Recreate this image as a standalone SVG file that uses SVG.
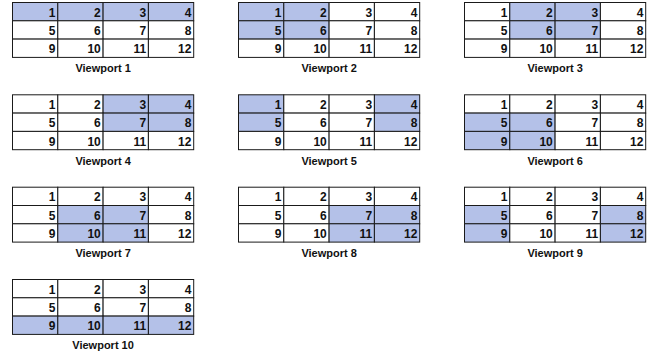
<svg xmlns="http://www.w3.org/2000/svg" width="662" height="356" viewBox="0 0 662 356">
<style>
.bg{fill:#ffffff}
.c{fill:#ffffff;stroke:#1a1a1a;stroke-width:1}
.h{fill:#b4c1e8;stroke:#1a1a1a;stroke-width:1}
.n{font-family:"Liberation Sans",Arial,sans-serif;font-size:12px;font-weight:bold;fill:#111;text-anchor:end}
.l{font-family:"Liberation Sans",Arial,sans-serif;font-size:11px;font-weight:bold;fill:#111;text-anchor:middle}
</style>
<rect class="bg" x="0" y="0" width="662" height="356"/>
<g id="vp1" transform="translate(12.5,2.5)">
<rect class="h" x="0" y="0" width="45.3" height="18.3"/><rect class="h" x="45.3" y="0" width="45.3" height="18.3"/><rect class="h" x="90.6" y="0" width="45.3" height="18.3"/><rect class="h" x="135.9" y="0" width="45.3" height="18.3"/>
<rect class="c" x="0" y="18.3" width="45.3" height="18.3"/><rect class="c" x="45.3" y="18.3" width="45.3" height="18.3"/><rect class="c" x="90.6" y="18.3" width="45.3" height="18.3"/><rect class="c" x="135.9" y="18.3" width="45.3" height="18.3"/>
<rect class="c" x="0" y="36.6" width="45.3" height="18.3"/><rect class="c" x="45.3" y="36.6" width="45.3" height="18.3"/><rect class="c" x="90.6" y="36.6" width="45.3" height="18.3"/><rect class="c" x="135.9" y="36.6" width="45.3" height="18.3"/>
<text class="n" x="43" y="14.2">1</text><text class="n" x="88.3" y="14.2">2</text><text class="n" x="133.6" y="14.2">3</text><text class="n" x="178.9" y="14.2">4</text>
<text class="n" x="43" y="32.5">5</text><text class="n" x="88.3" y="32.5">6</text><text class="n" x="133.6" y="32.5">7</text><text class="n" x="178.9" y="32.5">8</text>
<text class="n" x="43" y="50.8">9</text><text class="n" x="88.3" y="50.8">10</text><text class="n" x="133.6" y="50.8">11</text><text class="n" x="178.9" y="50.8">12</text>
<text class="l" x="90.6" y="69.8">Viewport 1</text>
</g>
<g id="vp2" transform="translate(238.5,2.5)">
<rect class="h" x="0" y="0" width="45.3" height="18.3"/><rect class="h" x="45.3" y="0" width="45.3" height="18.3"/><rect class="c" x="90.6" y="0" width="45.3" height="18.3"/><rect class="c" x="135.9" y="0" width="45.3" height="18.3"/>
<rect class="h" x="0" y="18.3" width="45.3" height="18.3"/><rect class="h" x="45.3" y="18.3" width="45.3" height="18.3"/><rect class="c" x="90.6" y="18.3" width="45.3" height="18.3"/><rect class="c" x="135.9" y="18.3" width="45.3" height="18.3"/>
<rect class="c" x="0" y="36.6" width="45.3" height="18.3"/><rect class="c" x="45.3" y="36.6" width="45.3" height="18.3"/><rect class="c" x="90.6" y="36.6" width="45.3" height="18.3"/><rect class="c" x="135.9" y="36.6" width="45.3" height="18.3"/>
<text class="n" x="43" y="14.2">1</text><text class="n" x="88.3" y="14.2">2</text><text class="n" x="133.6" y="14.2">3</text><text class="n" x="178.9" y="14.2">4</text>
<text class="n" x="43" y="32.5">5</text><text class="n" x="88.3" y="32.5">6</text><text class="n" x="133.6" y="32.5">7</text><text class="n" x="178.9" y="32.5">8</text>
<text class="n" x="43" y="50.8">9</text><text class="n" x="88.3" y="50.8">10</text><text class="n" x="133.6" y="50.8">11</text><text class="n" x="178.9" y="50.8">12</text>
<text class="l" x="90.6" y="69.8">Viewport 2</text>
</g>
<g id="vp3" transform="translate(464.5,2.5)">
<rect class="c" x="0" y="0" width="45.3" height="18.3"/><rect class="h" x="45.3" y="0" width="45.3" height="18.3"/><rect class="h" x="90.6" y="0" width="45.3" height="18.3"/><rect class="c" x="135.9" y="0" width="45.3" height="18.3"/>
<rect class="c" x="0" y="18.3" width="45.3" height="18.3"/><rect class="h" x="45.3" y="18.3" width="45.3" height="18.3"/><rect class="h" x="90.6" y="18.3" width="45.3" height="18.3"/><rect class="c" x="135.9" y="18.3" width="45.3" height="18.3"/>
<rect class="c" x="0" y="36.6" width="45.3" height="18.3"/><rect class="c" x="45.3" y="36.6" width="45.3" height="18.3"/><rect class="c" x="90.6" y="36.6" width="45.3" height="18.3"/><rect class="c" x="135.9" y="36.6" width="45.3" height="18.3"/>
<text class="n" x="43" y="14.2">1</text><text class="n" x="88.3" y="14.2">2</text><text class="n" x="133.6" y="14.2">3</text><text class="n" x="178.9" y="14.2">4</text>
<text class="n" x="43" y="32.5">5</text><text class="n" x="88.3" y="32.5">6</text><text class="n" x="133.6" y="32.5">7</text><text class="n" x="178.9" y="32.5">8</text>
<text class="n" x="43" y="50.8">9</text><text class="n" x="88.3" y="50.8">10</text><text class="n" x="133.6" y="50.8">11</text><text class="n" x="178.9" y="50.8">12</text>
<text class="l" x="90.6" y="69.8">Viewport 3</text>
</g>
<g id="vp4" transform="translate(12.5,94.8)">
<rect class="c" x="0" y="0" width="45.3" height="18.3"/><rect class="c" x="45.3" y="0" width="45.3" height="18.3"/><rect class="h" x="90.6" y="0" width="45.3" height="18.3"/><rect class="h" x="135.9" y="0" width="45.3" height="18.3"/>
<rect class="c" x="0" y="18.3" width="45.3" height="18.3"/><rect class="c" x="45.3" y="18.3" width="45.3" height="18.3"/><rect class="h" x="90.6" y="18.3" width="45.3" height="18.3"/><rect class="h" x="135.9" y="18.3" width="45.3" height="18.3"/>
<rect class="c" x="0" y="36.6" width="45.3" height="18.3"/><rect class="c" x="45.3" y="36.6" width="45.3" height="18.3"/><rect class="c" x="90.6" y="36.6" width="45.3" height="18.3"/><rect class="c" x="135.9" y="36.6" width="45.3" height="18.3"/>
<text class="n" x="43" y="14.2">1</text><text class="n" x="88.3" y="14.2">2</text><text class="n" x="133.6" y="14.2">3</text><text class="n" x="178.9" y="14.2">4</text>
<text class="n" x="43" y="32.5">5</text><text class="n" x="88.3" y="32.5">6</text><text class="n" x="133.6" y="32.5">7</text><text class="n" x="178.9" y="32.5">8</text>
<text class="n" x="43" y="50.8">9</text><text class="n" x="88.3" y="50.8">10</text><text class="n" x="133.6" y="50.8">11</text><text class="n" x="178.9" y="50.8">12</text>
<text class="l" x="90.6" y="69.8">Viewport 4</text>
</g>
<g id="vp5" transform="translate(238.5,94.8)">
<rect class="h" x="0" y="0" width="45.3" height="18.3"/><rect class="c" x="45.3" y="0" width="45.3" height="18.3"/><rect class="c" x="90.6" y="0" width="45.3" height="18.3"/><rect class="h" x="135.9" y="0" width="45.3" height="18.3"/>
<rect class="h" x="0" y="18.3" width="45.3" height="18.3"/><rect class="c" x="45.3" y="18.3" width="45.3" height="18.3"/><rect class="c" x="90.6" y="18.3" width="45.3" height="18.3"/><rect class="h" x="135.9" y="18.3" width="45.3" height="18.3"/>
<rect class="c" x="0" y="36.6" width="45.3" height="18.3"/><rect class="c" x="45.3" y="36.6" width="45.3" height="18.3"/><rect class="c" x="90.6" y="36.6" width="45.3" height="18.3"/><rect class="c" x="135.9" y="36.6" width="45.3" height="18.3"/>
<text class="n" x="43" y="14.2">1</text><text class="n" x="88.3" y="14.2">2</text><text class="n" x="133.6" y="14.2">3</text><text class="n" x="178.9" y="14.2">4</text>
<text class="n" x="43" y="32.5">5</text><text class="n" x="88.3" y="32.5">6</text><text class="n" x="133.6" y="32.5">7</text><text class="n" x="178.9" y="32.5">8</text>
<text class="n" x="43" y="50.8">9</text><text class="n" x="88.3" y="50.8">10</text><text class="n" x="133.6" y="50.8">11</text><text class="n" x="178.9" y="50.8">12</text>
<text class="l" x="90.6" y="69.8">Viewport 5</text>
</g>
<g id="vp6" transform="translate(464.5,94.8)">
<rect class="c" x="0" y="0" width="45.3" height="18.3"/><rect class="c" x="45.3" y="0" width="45.3" height="18.3"/><rect class="c" x="90.6" y="0" width="45.3" height="18.3"/><rect class="c" x="135.9" y="0" width="45.3" height="18.3"/>
<rect class="h" x="0" y="18.3" width="45.3" height="18.3"/><rect class="h" x="45.3" y="18.3" width="45.3" height="18.3"/><rect class="c" x="90.6" y="18.3" width="45.3" height="18.3"/><rect class="c" x="135.9" y="18.3" width="45.3" height="18.3"/>
<rect class="h" x="0" y="36.6" width="45.3" height="18.3"/><rect class="h" x="45.3" y="36.6" width="45.3" height="18.3"/><rect class="c" x="90.6" y="36.6" width="45.3" height="18.3"/><rect class="c" x="135.9" y="36.6" width="45.3" height="18.3"/>
<text class="n" x="43" y="14.2">1</text><text class="n" x="88.3" y="14.2">2</text><text class="n" x="133.6" y="14.2">3</text><text class="n" x="178.9" y="14.2">4</text>
<text class="n" x="43" y="32.5">5</text><text class="n" x="88.3" y="32.5">6</text><text class="n" x="133.6" y="32.5">7</text><text class="n" x="178.9" y="32.5">8</text>
<text class="n" x="43" y="50.8">9</text><text class="n" x="88.3" y="50.8">10</text><text class="n" x="133.6" y="50.8">11</text><text class="n" x="178.9" y="50.8">12</text>
<text class="l" x="90.6" y="69.8">Viewport 6</text>
</g>
<g id="vp7" transform="translate(12.5,187.2)">
<rect class="c" x="0" y="0" width="45.3" height="18.3"/><rect class="c" x="45.3" y="0" width="45.3" height="18.3"/><rect class="c" x="90.6" y="0" width="45.3" height="18.3"/><rect class="c" x="135.9" y="0" width="45.3" height="18.3"/>
<rect class="c" x="0" y="18.3" width="45.3" height="18.3"/><rect class="h" x="45.3" y="18.3" width="45.3" height="18.3"/><rect class="h" x="90.6" y="18.3" width="45.3" height="18.3"/><rect class="c" x="135.9" y="18.3" width="45.3" height="18.3"/>
<rect class="c" x="0" y="36.6" width="45.3" height="18.3"/><rect class="h" x="45.3" y="36.6" width="45.3" height="18.3"/><rect class="h" x="90.6" y="36.6" width="45.3" height="18.3"/><rect class="c" x="135.9" y="36.6" width="45.3" height="18.3"/>
<text class="n" x="43" y="14.2">1</text><text class="n" x="88.3" y="14.2">2</text><text class="n" x="133.6" y="14.2">3</text><text class="n" x="178.9" y="14.2">4</text>
<text class="n" x="43" y="32.5">5</text><text class="n" x="88.3" y="32.5">6</text><text class="n" x="133.6" y="32.5">7</text><text class="n" x="178.9" y="32.5">8</text>
<text class="n" x="43" y="50.8">9</text><text class="n" x="88.3" y="50.8">10</text><text class="n" x="133.6" y="50.8">11</text><text class="n" x="178.9" y="50.8">12</text>
<text class="l" x="90.6" y="69.8">Viewport 7</text>
</g>
<g id="vp8" transform="translate(238.5,187.2)">
<rect class="c" x="0" y="0" width="45.3" height="18.3"/><rect class="c" x="45.3" y="0" width="45.3" height="18.3"/><rect class="c" x="90.6" y="0" width="45.3" height="18.3"/><rect class="c" x="135.9" y="0" width="45.3" height="18.3"/>
<rect class="c" x="0" y="18.3" width="45.3" height="18.3"/><rect class="c" x="45.3" y="18.3" width="45.3" height="18.3"/><rect class="h" x="90.6" y="18.3" width="45.3" height="18.3"/><rect class="h" x="135.9" y="18.3" width="45.3" height="18.3"/>
<rect class="c" x="0" y="36.6" width="45.3" height="18.3"/><rect class="c" x="45.3" y="36.6" width="45.3" height="18.3"/><rect class="h" x="90.6" y="36.6" width="45.3" height="18.3"/><rect class="h" x="135.9" y="36.6" width="45.3" height="18.3"/>
<text class="n" x="43" y="14.2">1</text><text class="n" x="88.3" y="14.2">2</text><text class="n" x="133.6" y="14.2">3</text><text class="n" x="178.9" y="14.2">4</text>
<text class="n" x="43" y="32.5">5</text><text class="n" x="88.3" y="32.5">6</text><text class="n" x="133.6" y="32.5">7</text><text class="n" x="178.9" y="32.5">8</text>
<text class="n" x="43" y="50.8">9</text><text class="n" x="88.3" y="50.8">10</text><text class="n" x="133.6" y="50.8">11</text><text class="n" x="178.9" y="50.8">12</text>
<text class="l" x="90.6" y="69.8">Viewport 8</text>
</g>
<g id="vp9" transform="translate(464.5,187.2)">
<rect class="c" x="0" y="0" width="45.3" height="18.3"/><rect class="c" x="45.3" y="0" width="45.3" height="18.3"/><rect class="c" x="90.6" y="0" width="45.3" height="18.3"/><rect class="c" x="135.9" y="0" width="45.3" height="18.3"/>
<rect class="h" x="0" y="18.3" width="45.3" height="18.3"/><rect class="c" x="45.3" y="18.3" width="45.3" height="18.3"/><rect class="c" x="90.6" y="18.3" width="45.3" height="18.3"/><rect class="h" x="135.9" y="18.3" width="45.3" height="18.3"/>
<rect class="h" x="0" y="36.6" width="45.3" height="18.3"/><rect class="c" x="45.3" y="36.6" width="45.3" height="18.3"/><rect class="c" x="90.6" y="36.6" width="45.3" height="18.3"/><rect class="h" x="135.9" y="36.6" width="45.3" height="18.3"/>
<text class="n" x="43" y="14.2">1</text><text class="n" x="88.3" y="14.2">2</text><text class="n" x="133.6" y="14.2">3</text><text class="n" x="178.9" y="14.2">4</text>
<text class="n" x="43" y="32.5">5</text><text class="n" x="88.3" y="32.5">6</text><text class="n" x="133.6" y="32.5">7</text><text class="n" x="178.9" y="32.5">8</text>
<text class="n" x="43" y="50.8">9</text><text class="n" x="88.3" y="50.8">10</text><text class="n" x="133.6" y="50.8">11</text><text class="n" x="178.9" y="50.8">12</text>
<text class="l" x="90.6" y="69.8">Viewport 9</text>
</g>
<g id="vp10" transform="translate(12.5,279.5)">
<rect class="c" x="0" y="0" width="45.3" height="18.3"/><rect class="c" x="45.3" y="0" width="45.3" height="18.3"/><rect class="c" x="90.6" y="0" width="45.3" height="18.3"/><rect class="c" x="135.9" y="0" width="45.3" height="18.3"/>
<rect class="c" x="0" y="18.3" width="45.3" height="18.3"/><rect class="c" x="45.3" y="18.3" width="45.3" height="18.3"/><rect class="c" x="90.6" y="18.3" width="45.3" height="18.3"/><rect class="c" x="135.9" y="18.3" width="45.3" height="18.3"/>
<rect class="h" x="0" y="36.6" width="45.3" height="18.3"/><rect class="h" x="45.3" y="36.6" width="45.3" height="18.3"/><rect class="h" x="90.6" y="36.6" width="45.3" height="18.3"/><rect class="h" x="135.9" y="36.6" width="45.3" height="18.3"/>
<text class="n" x="43" y="14.2">1</text><text class="n" x="88.3" y="14.2">2</text><text class="n" x="133.6" y="14.2">3</text><text class="n" x="178.9" y="14.2">4</text>
<text class="n" x="43" y="32.5">5</text><text class="n" x="88.3" y="32.5">6</text><text class="n" x="133.6" y="32.5">7</text><text class="n" x="178.9" y="32.5">8</text>
<text class="n" x="43" y="50.8">9</text><text class="n" x="88.3" y="50.8">10</text><text class="n" x="133.6" y="50.8">11</text><text class="n" x="178.9" y="50.8">12</text>
<text class="l" x="90.6" y="69.8">Viewport 10</text>
</g>
</svg>
